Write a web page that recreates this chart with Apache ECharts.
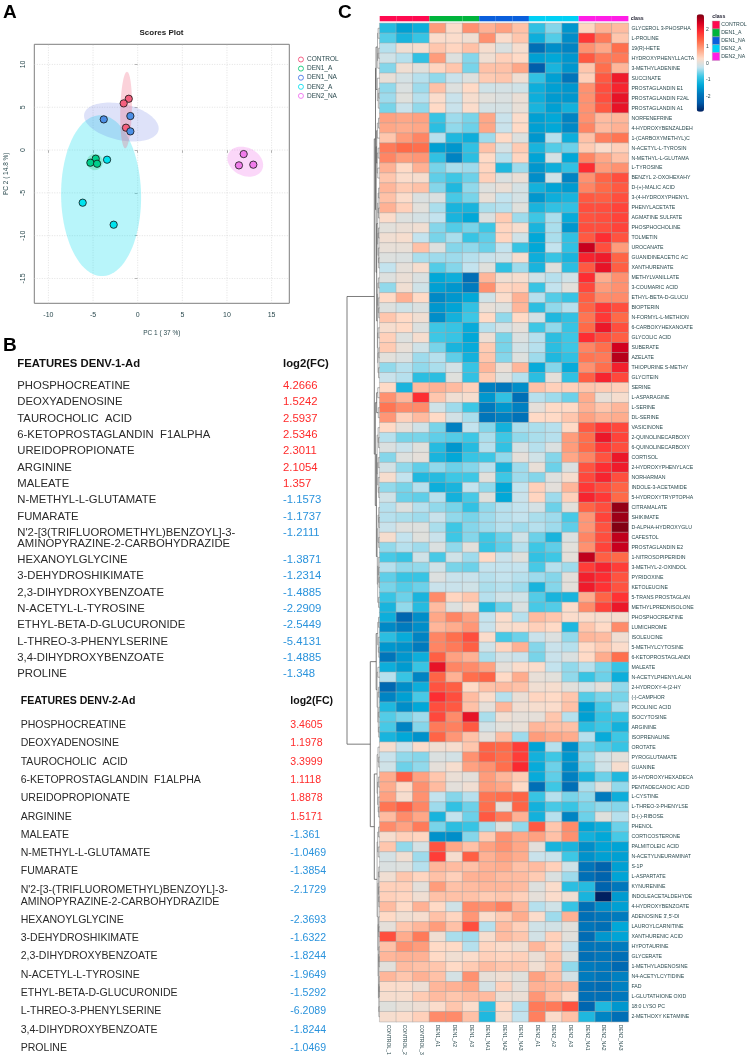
<!DOCTYPE html>
<html><head><meta charset="utf-8">
<script src="https://cdn.jsdelivr.net/npm/echarts@6/dist/echarts.min.js"></script>
<style>html,body{margin:0;padding:0;background:#fff}#c{width:750px;height:1058px}</style>
</head><body><div id="c"></div>
<script>
// ---------- Panel A data ----------
const groups = ['CONTROL','DEN1_A','DEN1_NA','DEN2_A','DEN2_NA'];
const groupPointColors = ['#f4607e','#00cf8c','#4c8fe6','#00e3ee','#f07cea'];
const legendRingColors = ['#f4507a','#10c878','#4878e8','#10e0f0','#f070f0'];
const ptControl = [[-1.0,5.99],[-1.57,5.45],[-1.31,2.61]];
const ptDen1A = [[-4.7,-1.01],[-5.3,-1.48],[-4.55,-1.6]];
const ptDen1NA = [[-3.8,3.58],[-0.82,3.97],[-0.82,2.18]];
const ptDen2A = [[-3.43,-1.13],[-6.16,-6.15],[-2.69,-8.72]];
const ptDen2NA = [[11.87,-0.47],[11.34,-1.79],[12.95,-1.71]];
// ellipse: centre x,y, conjugate semi-axis u(x,y), v(x,y)
const ellipses = [
 [-4.1,-5.33,4.48,0,-0.1,9.4],
 [-1.83,3.27,4.18,-0.74,0,2.15],
 [-1.3,4.67,0.1,4.47,0.65,0],
 [-4.8,-1.4,0.9,0,0,0.95],
 [12.05,-1.36,2.0,-0.39,0,1.71]
];
const ellipseColors = ['rgba(40,225,240,0.33)','rgba(90,110,225,0.2)','rgba(240,90,120,0.27)','rgba(40,210,130,0.3)','rgba(240,110,235,0.28)'];
const xTicks = [-10,-5,0,5,10,15];
const yTicks = [-15,-10,-5,0,5,10];

// ---------- Panel B data ----------
const featuresD1 = ['PHOSPHOCREATINE','DEOXYADENOSINE','TAUROCHOLIC  ACID','6-KETOPROSTAGLANDIN  F1ALPHA','UREIDOPROPIONATE','ARGININE','MALEATE','N-METHYL-L-GLUTAMATE','FUMARATE',"N'2-[3(TRIFLUOROMETHYL)BENZOYL]-3-\nAMINOPYRAZINE-2-CARBOHYDRAZIDE",'HEXANOYLGLYCINE','3-DEHYDROSHIKIMATE','2,3-DIHYDROXYBENZOATE','N-ACETYL-L-TYROSINE','ETHYL-BETA-D-GLUCURONIDE','L-THREO-3-PHENYLSERINE','3,4-DIHYDROXYBENZOATE','PROLINE'];
const fcD1 = ['4.2666','1.5242','2.5937','2.5346','2.3011','2.1054','1.357','-1.1573','-1.1737','-1.2111','-1.3871','-1.2314','-1.4885','-2.2909','-2.5449','-5.4131','-1.4885','-1.348'];
const featuresD2 = ['PHOSPHOCREATINE','DEOXYADENOSINE','TAUROCHOLIC  ACID','6-KETOPROSTAGLANDIN  F1ALPHA','UREIDOPROPIONATE','ARGININE','MALEATE','N-METHYL-L-GLUTAMATE','FUMARATE',"N'2-[3-(TRIFLUOROMETHYL)BENZOYL]-3-\nAMINOPYRAZINE-2-CARBOHYDRAZIDE",'HEXANOYLGLYCINE','3-DEHYDROSHIKIMATE','2,3-DIHYDROXYBENZOATE','N-ACETYL-L-TYROSINE','ETHYL-BETA-D-GLUCURONIDE','L-THREO-3-PHENYLSERINE','3,4-DIHYDROXYBENZOATE','PROLINE'];
const fcD2 = ['3.4605','1.1978','3.3999','1.1118','1.8878','1.5171','-1.361','-1.0469','-1.3854','-2.1729','-2.3693','-1.6322','-1.8244','-1.9649','-1.5292','-6.2089','-1.8244','-1.0469'];

// ---------- Panel C data ----------
const colNames = ['CONTROL_1','CONTROL_2','CONTROL_3','DEN1_A1','DEN1_A2','DEN1_A3','DEN1_NA1','DEN1_NA2','DEN1_NA3','DEN2_A1','DEN2_A2','DEN2_A3','DEN2_NA1','DEN2_NA2','DEN2_NA3'];
const classNames = ['CONTROL','DEN1_A','DEN1_NA','DEN2_A','DEN2_NA'];
const classColors = ['#ff0a50','#00b43c','#0a5fdc','#00d0f5','#ff1ee6'];
const colClass = [0,0,0,1,1,1,2,2,2,3,3,3,4,4,4];
const rowNames = ['GLYCEROL 3-PHOSPHA','L-PROLINE','19(R)-HETE','HYDROXYPHENYLLACTA','3-METHYLADENINE','SUCCINATE','PROSTAGLANDIN E1','PROSTAGLANDIN F2AL','PROSTAGLANDIN A1','NORFENEFRINE','4-HYDROXYBENZALDEH','1-(CARBOXYMETHYL)C','N-ACETYL-L-TYROSIN','N-METHYL-L-GLUTAMA','L-TYROSINE','BENZYL 2-OXOHEXAHY','D-(+)-MALIC ACID','3-(4-HYDROXYPHENYL','PHENYLACETATE','AGMATINE SULFATE','PHOSPHOCHOLINE','TOLMETIN','UROCANATE','GUANIDINEACETIC AC','XANTHURENATE','METHYLVANILLATE','3-COUMARIC ACID','ETHYL-BETA-D-GLUCU','BIOPTERIN','N-FORMYL-L-METHION','6-CARBOXYHEXANOATE','GLYCOLIC ACID','SUBERATE','AZELATE','THIOPURINE S-METHY','GLYCITEIN','SERINE','L-ASPARAGINE','L-SERINE','DL-SERINE','VASICINONE','2-QUINOLINECARBOXY','6-QUINOLINECARBOXY','CORTISOL','2-HYDROXYPHENYLACE','NORHARMAN','INDOLE-3-ACETAMIDE','5-HYDROXYTRYPTOPHA','CITRAMALATE','SHIKIMATE','D-ALPHA-HYDROXYGLU','CAFESTOL','PROSTAGLANDIN E2','1-NITROSOPIPERIDIN','3-METHYL-2-OXINDOL','PYRIDOXINE','KETOLEUCINE','5-TRANS PROSTAGLAN','METHYLPREDNISOLONE','PHOSPHOCREATINE','LUMICHROME','ISOLEUCINE','5-METHYLCYTOSINE','6-KETOPROSTAGLANDI','MALEATE','N-ACETYLPHENYLALAN','2-HYDROXY-4-(2-HY','(-)-CAMPHOR','PICOLINIC ACID','ISOCYTOSINE','ARGININE','ISOPRENALINE','OROTATE','PYROGLUTAMATE','GUANINE','16-HYDROXYHEXADECA','PENTADECANOIC ACID','L-CYSTINE','L-THREO-3-PHENYLSE','D-(-)-RIBOSE','PHENOL','CORTICOSTERONE','PALMITOLEIC ACID','N-ACETYLNEURAMINAT','S-1P','L-ASPARTATE','KYNURENINE','INDOLEACETALDEHYDE','4-HYDROXYBENZOATE',"ADENOSINE 3',5'-DI",'LAUROYLCARNITINE','XANTHURENIC ACID','HYPOTAURINE','GLYCERATE','1-METHYLADENOSINE','N4-ACETYLCYTIDINE','FAD','L-GLUTATHIONE OXID','18:0 LYSO PC','2-METHOXY KETAMINE'];
const heatValues = [
[-1.0,-1.4,-1.2,0.9,0.25,1.0,0.7,0.85,0.55,-0.9,-0.5,-1.5,0.35,0.7,0.6],
[-0.7,-1.1,-0.85,0.25,0.25,0.15,1.0,0.25,0.5,-1.2,-0.7,-1.6,1.8,1.2,0.5],
[-0.3,0.15,0.2,0.5,0.35,0.55,0.2,-0.05,0.2,-2.0,-1.6,-1.7,1.0,0.8,1.3],
[-0.15,-0.3,-0.9,0.9,-0.02,-0.5,0.15,0.4,0.3,-1.4,-1.3,-1.5,1.5,1.2,1.2],
[-0.5,0.15,0,0.35,0.5,-0.55,0.55,0.55,0.8,-2.3,-1.1,-1.5,0.5,1.3,0.65],
[0.08,-0.1,-0.3,-0.45,-0.2,-0.02,0.45,0.5,0.15,-0.9,-1.4,-1.9,0.4,1.5,2.1],
[-0.45,-0.05,-0.4,0.55,-0.02,0.3,-0.15,-0.1,-0.15,-1.2,-1.4,-1.5,1.0,1.6,2.0],
[-0.4,0.0,-0.3,0.25,-0.2,0.2,0.02,-0.05,0.1,-1.2,-1.45,-1.5,1.0,1.6,2.2],
[-0.55,-0.2,-0.45,0.3,-0.2,0.25,-0.1,-0.1,0.08,-1.1,-1.4,-1.15,1.0,1.5,2.2],
[0.85,0.8,0.85,-0.85,-0.4,-0.55,0.8,-0.2,0.25,-1.4,-1.3,-1.7,1.0,0.6,0.65],
[0.8,0.75,0.8,-0.95,-0.45,-0.6,0.8,-0.2,0.3,-1.4,-1.3,-1.65,1.1,0.6,0.7],
[0.5,0.9,1.1,-0.3,-1.05,-1.2,-0.4,0.3,-0.02,-1.5,-0.3,-1.2,0.55,1.15,1.25],
[1.2,1.35,1.3,-1.4,-1.5,-0.9,0.55,-0.1,0.45,-1.1,-0.7,-0.6,0.45,0.25,0.4],
[1.1,0.9,0.95,-0.9,-1.7,-0.95,0.3,-0.3,0.35,-1.35,-0.1,-1.3,1.1,0.8,0.55],
[0.7,0.3,0.7,-0.55,-0.35,-0.4,0.35,-1.05,-0.4,-1.5,-1.2,-0.9,1.9,0.9,1.0],
[0.5,0.25,0.2,-0.65,-0.8,-0.6,0.4,-0.05,0.1,-1.6,-0.15,-1.7,1.0,1.4,1.6],
[0.65,0.45,0.55,-0.5,-1.05,-0.45,-0.02,0.1,-0.1,-1.15,-1.35,-1.45,1.1,1.35,1.5],
[0.55,0.25,-0.05,-0.05,-0.75,-0.55,0.08,-0.25,-0.1,-1.5,-1.2,-1.1,1.5,1.45,1.6],
[0.7,0.4,0.02,-0.35,-1.1,-1.1,-0.35,-0.3,0,-1.1,-0.9,-0.9,1.6,1.6,1.7],
[0.25,-0.02,-0.1,-0.25,-1.1,-1.3,-0.05,0.45,-0.4,-0.8,-0.35,-1.25,1.55,1.6,1.7],
[0.02,0.1,0.15,-0.5,-0.7,-0.55,-0.8,0.35,0.2,-1.1,-0.35,-1.5,1.6,1.6,1.7],
[0.15,0.2,-0.25,-0.55,-0.35,-0.85,-0.65,0.35,-0.15,-1.3,-0.35,-0.9,1.5,1.9,1.55],
[0.08,0.08,0.55,-0.02,-0.5,-0.45,-0.6,-0.25,-0.85,-1.3,-0.25,-0.9,2.5,1.6,0.9],
[-0.02,-0.05,-0.35,-0.4,-0.4,-0.3,-0.2,-0.15,0.2,-1.2,-0.85,-1.1,2.0,2.1,1.4],
[-0.25,0.05,0.2,-0.7,-0.5,-0.25,0.0,-0.9,-0.4,-1.1,0.0,-0.95,1.5,2.2,1.45],
[-0.02,0.1,-0.05,-1.3,-1.2,-2.0,0.65,0.15,0.2,-0.15,-0.3,-0.15,1.9,0.75,1.0],
[-0.45,0.15,-0.15,-1.4,-1.5,-1.8,1.0,0.35,0.4,-0.85,-0.25,0.02,1.65,0.9,1.0],
[0.3,0.7,0.3,-1.65,-1.5,-1.3,-0.15,0.25,0.7,-0.3,-0.7,-0.85,1.45,1.05,1.05],
[-0.02,-0.15,-0.05,-1.5,-1.35,-0.9,0.08,-0.02,0.65,-0.95,-0.45,-0.3,1.4,1.8,1.6],
[0.5,0.3,0.15,-1.6,-1.15,-0.8,0.3,-0.45,0.3,-0.12,-1.05,-0.9,1.25,1.8,1.35],
[0.2,0.3,-0.03,-0.8,-0.85,-1.25,-0.3,-0.1,0.05,-0.8,-0.45,-0.85,1.35,2.15,1.6],
[0.4,-0.02,0.2,-0.8,-0.85,-1.3,0.12,-0.55,-0.05,-0.3,-0.95,-0.8,1.9,1.6,1.45],
[0.45,0.08,-0.15,-0.55,-1.1,-1.25,0.45,-0.55,-0.12,-0.3,-0.95,-0.8,1.1,1.3,2.45],
[0.02,-0.05,-0.4,-0.3,-0.65,-1.15,0.5,-0.5,-0.02,-0.4,-1.05,-0.9,1.25,1.2,2.6],
[-0.45,-0.3,-0.45,-0.35,-0.12,-0.85,0.65,0.1,0.65,-1.25,-0.5,-1.25,1.0,1.3,2.05],
[-0.2,-0.3,-0.95,-0.95,0.0,-0.9,0.45,-0.02,-0.3,-0.95,0.05,-0.9,1.45,2.0,1.65],
[0.3,-1.1,0.6,0.7,0.6,0.4,-1.75,-1.85,-1.6,0.55,0.4,0.4,0.5,0.45,0.4],
[1.0,0.65,1.9,0.5,0.15,0.2,-1.5,-0.9,-2.0,-0.3,-0.4,-0.6,0.75,0.08,0.2],
[1.25,1.05,1.05,-0.15,-0.4,-0.8,-1.8,-1.5,-1.75,0.05,0.3,0.3,0.7,0.5,0.65],
[0.95,0.4,0.6,0.3,-0.12,-0.35,-1.9,-1.75,-1.95,0.3,0.3,0.5,0.85,0.7,0.75],
[0.3,0.05,-0.15,-0.55,-1.75,-0.25,-0.5,-1.15,-0.35,-0.35,-0.3,0.3,1.5,1.8,1.65],
[-0.3,-0.55,-0.55,-0.65,-0.7,-0.8,-0.35,-0.8,-0.45,-0.35,-0.3,0.9,1.3,2.15,1.7],
[-0.05,-0.2,0.0,-1.0,-1.5,-1.0,-0.3,-0.9,-0.1,-0.3,-0.05,0.9,1.35,1.8,1.6],
[-0.5,-0.02,0.05,-1.1,-1.3,-0.85,-0.8,-0.45,0.05,-0.15,-0.5,0.8,1.1,1.55,2.15],
[-0.12,-0.45,-0.65,-0.45,-0.6,-0.5,-0.3,-1.1,-0.4,0.08,-0.6,-0.05,1.55,1.9,2.1],
[0.2,-0.25,-1.05,-1.0,-0.8,-0.8,0.02,-0.8,-0.4,-0.5,-0.02,0.2,1.65,2.0,1.6],
[-0.45,-0.55,-0.3,-1.2,-1.1,-0.25,-0.45,-1.3,-0.25,0.4,0.03,0.65,1.8,1.6,1.4],
[-0.15,-0.6,-0.65,-0.3,-1.15,-0.75,0.0,-1.3,-0.2,0.35,-0.4,0.4,2.0,1.8,1.35],
[-0.3,-0.03,-0.3,-0.45,-0.55,-0.9,-0.45,-0.3,-0.25,-0.1,-0.6,0.02,1.4,1.6,2.8],
[-0.3,-0.35,-0.4,-0.2,-0.45,-0.55,-0.4,-0.3,-0.25,-0.35,-0.4,-0.75,0.95,1.7,2.75],
[-0.2,-0.02,-0.02,-0.35,-0.8,-0.5,-0.4,-0.3,-0.4,-0.3,-0.4,-0.65,0.95,1.55,2.9],
[0.2,-0.25,0.0,-0.2,-0.8,-0.5,-0.8,-0.6,-0.15,-0.6,-1.1,-0.05,1.1,1.6,2.55],
[-0.45,-0.3,-0.4,-0.05,-0.45,0.02,-0.85,-0.65,-0.3,-0.8,-0.65,0.02,1.0,1.7,2.5],
[-0.75,-0.85,-0.15,-0.75,-0.15,-0.4,0.3,-0.2,0.0,-0.9,-0.8,0.05,2.55,1.45,1.35],
[-0.3,-0.45,-0.45,-0.15,-0.55,-0.6,-0.25,-0.25,-0.25,-0.75,-0.3,-0.4,1.75,2.0,1.75],
[-0.65,-0.85,-0.85,-0.03,-0.2,-0.2,-0.3,-0.25,-0.3,-0.4,-0.5,0.03,2.05,1.9,1.55],
[-0.55,-0.7,-0.6,-0.2,-0.2,-0.15,-0.35,-0.3,-0.4,-1.1,-0.5,0.03,2.1,1.85,1.55],
[-0.85,-0.6,-1.1,1.05,0.35,0.5,-0.3,-0.15,-0.15,-0.7,-1.1,-1.1,0.75,1.4,1.85],
[-1.1,-0.45,-1.0,0.6,-0.03,0.2,-1.0,-0.6,-0.05,-0.75,-0.7,0.25,1.05,1.7,2.15],
[-1.2,-2.15,-1.6,0.8,1.1,0.85,-0.25,0.25,-0.3,0.6,0.5,0.25,0.25,0.2,0.2],
[-1.65,-1.8,-1.6,0.65,0.75,0.95,-0.2,0.2,0.25,0.4,0.3,-1.05,0.5,0.3,1.05],
[-0.95,-1.25,-1.7,1.1,1.3,1.6,0.25,-0.75,-0.6,-0.2,-0.03,-0.45,0.65,0.6,0.15],
[-1.5,-1.55,-1.8,1.1,1.2,1.45,-0.15,0.35,0.7,-0.5,-0.2,-0.3,0.3,0.45,0.25],
[-1.9,-1.5,-1.2,1.45,0.85,0.7,-0.35,-0.12,-0.2,-0.55,-0.2,-0.05,0.3,0.75,1.3],
[-1.2,-1.45,-0.85,2.2,1.1,1.05,0.85,0.05,0.25,0.25,-0.25,-0.45,-0.3,-0.55,-0.85],
[-0.3,-0.85,-1.7,1.4,0.7,1.3,1.4,0.3,0.75,0.08,0.02,-0.45,-0.85,-0.6,-1.2],
[-2.1,-1.6,-1.2,1.55,1.45,0.3,0.55,0.6,0.55,0.15,0.2,0.02,-0.15,0.05,-0.45],
[-1.7,-1.4,-0.75,1.9,1.6,0.6,0.25,-0.3,0.1,0.35,0.3,0.5,-0.7,-0.55,-0.55],
[-1.05,-1.6,-1.3,1.6,1.5,0.55,0.05,0.65,0.15,0.2,0.25,0.55,-1.4,-0.75,-0.35],
[-0.7,-0.55,-0.4,1.65,1.05,2.2,-0.35,0.15,0.05,0.05,0.5,-0.3,-1.4,-0.85,-0.85],
[-0.75,-1.7,-0.5,1.2,1.15,1.5,-0.12,0.02,0.08,0.65,0.55,0.55,-0.95,-0.8,-1.15],
[-1.1,-1.3,-1.55,1.4,0.95,0.55,0.05,0.6,-0.4,0.9,0.8,0.75,-0.3,-1.25,-0.8],
[0.2,-0.2,0.25,0.15,0.2,0.5,1.4,1.35,1.75,-1.35,-0.3,-1.6,-0.6,-0.7,-0.85],
[-0.2,-0.45,-0.5,-0.05,-0.12,1.0,1.45,1.3,1.75,-1.15,-0.8,-1.5,-0.45,-0.15,0.02],
[-0.15,-0.6,-0.45,0.05,0.2,0.85,1.0,1.3,1.95,-1.25,-0.6,-1.6,-0.55,-0.15,0.2],
[0.75,1.45,0.85,0.5,0.1,0.03,0.9,0.65,0.45,-1.25,-0.65,-1.75,-1.1,-0.6,-1.05],
[0.75,0.3,1.0,0.6,0.03,0.15,0.9,0.8,0.3,-2.0,-0.8,-2.0,-0.35,0.0,-0.45],
[0.85,0.2,1.0,-0.25,-0.5,-0.3,1.25,1.3,1.4,-0.85,-0.3,-0.55,-0.45,-1.8,-1.2],
[1.25,1.45,1.1,-0.4,-0.9,-0.6,1.3,0.05,1.4,-1.15,-0.75,-0.85,-0.55,-0.45,-0.5],
[0.6,1.05,0.8,-1.1,-0.25,-0.6,1.5,1.2,0.7,-1.15,-0.3,-1.7,-0.6,0.0,-0.3],
[1.05,0.85,1.2,-0.55,-0.95,-0.85,-0.4,0.0,-0.45,1.5,0.5,1.05,-1.35,-1.2,-0.6],
[0.2,0.4,0.35,-1.55,-1.6,-0.5,0.45,1.0,0.8,0.85,0.55,1.0,-1.15,-1.3,-0.75],
[0.5,-0.45,-0.1,1.55,0.8,0.55,0.85,1.0,0.8,0.03,-1.1,-1.1,-1.6,-1.35,-1.35],
[-0.1,0.15,-0.4,1.75,0.2,1.45,0.7,0.85,0.75,-0.2,-0.2,-0.8,-1.55,-1.4,-1.4],
[-0.05,-0.02,-0.3,0.65,0.6,0.55,0.7,0.75,0.55,0.6,0.4,-0.15,-1.9,-2.2,-1.4],
[0.15,0.5,0.35,0.55,0.4,0.7,0.7,0.6,0.6,0.45,-0.05,-0.4,-2.0,-2.2,-1.35],
[0.4,0.4,0.03,0.9,0.55,0.6,0.65,0.65,0.6,-0.02,0.25,-0.95,-1.0,-2.2,-1.85],
[0.4,0.35,0.15,0.55,0.55,0.55,0.45,0.5,0.4,0.05,0.25,0.15,-1.1,-2.9,-1.45],
[0.6,0.3,0.7,0.3,-0.15,1.05,1.0,1.15,0.65,-0.3,-0.15,-0.85,-2.0,-1.6,-1.4],
[0.3,0.15,0.2,0.55,0.35,0.95,0.25,0.45,0.75,0.25,-0.4,0.7,-2.0,-1.9,-1.8],
[0.05,0.5,0.65,0.9,0.55,1.6,-0.3,0.6,0.4,-0.15,-0.12,0.02,-1.9,-2.0,-1.3],
[1.6,0.75,1.2,0.15,-0.35,-0.4,0.2,0.6,0.5,-0.12,0.4,0.02,-2.05,-1.5,-1.35],
[0.55,1.0,0.9,0.3,0.3,-0.3,0.35,0.25,0.15,0.65,0.35,-0.2,-1.9,-1.9,-1.8],
[0.65,0.7,0.7,0.3,0.15,0.25,0.4,0.35,0.4,0.1,0.5,0.0,-2.0,-1.9,-2.0],
[0.02,0.6,0.55,0.5,0.3,0.45,0.6,0.5,0.5,0.15,0.5,-0.45,-1.8,-1.85,-2.1],
[0.65,0.5,0.7,0.55,-0.1,1.0,0.07,0.15,0.0,0.85,0.55,-0.12,-1.8,-1.9,-1.75],
[0.25,0.25,0.12,0.65,0.7,0.8,-0.1,0.4,0.03,0.7,0.65,0.65,-2.0,-2.05,-1.75],
[0.2,0.2,0.45,0.6,0.5,0.6,0.6,0.1,0.1,0.95,0.55,0.25,-2.0,-2.0,-1.85],
[0.0,0.07,0.12,0.25,0.5,0.25,-0.9,0.3,-0.3,1.2,1.2,1.55,-2.15,-1.05,-1.5],
[0.2,0.25,0.4,1.05,1.05,0.55,-1.05,0.2,-0.25,1.15,0.25,0.55,-1.05,-1.7,-2.0]
];
const scaleMin = -2.9, scaleMax = 2.94;
const scaleStops = ['#002060','#005aa8','#0078bc','#00a8d8','#40c8e6','#c4e3ee','#ffdcc8','#ffa585','#ff6a48','#ff2f33','#d80020','#7c0012'];
const scaleTicks = [-2,-1,0,1,2];
// row dendrogram: [height, leftChild, rightChild]; a number is a row (1-based)
const dTop1 = [3.6,[2.2,[1.6,1,2],[1.9,[1.3,3,4],5]],[2.4,6,[1.4,[0.9,7,8],9]]];
const dTop2 = [3.6,[3.0,[2.4,[1.2,10,11],12],[2.5,[1.5,13,14],[1.9,15,16]]],[3.0,[2.0,[1.6,[1.1,17,18],[1.2,19,20]],[1.7,[1.2,21,22],[1.3,23,[1.0,24,25]]]],[2.3,[1.9,[1.3,26,27],[1.4,28,[1.0,29,30]]],[2.0,[1.5,31,32],[1.7,[0.9,33,34],[1.2,35,36]]]]]];
const dMid = [4.4,[3.0,[1.9,37,38],[1.4,39,40]],[3.3,[2.6,[1.6,41,[1.2,42,43]],[2.0,[1.4,44,45],[1.5,46,[1.0,47,48]]]],[2.4,[1.7,[1.0,49,[0.8,50,51]],[1.0,52,53]],[2.0,[1.4,54,[1.0,55,[0.7,56,57]]],[1.2,58,59]]]]];
const dLow1 = [3.5,[2.0,[1.2,60,61],[1.4,62,[0.9,63,64]]],[2.6,[1.8,65,66],[1.9,[1.1,67,68],[1.4,[0.9,69,70],[1.0,71,72]]]]];
const dLow2 = [2.6,[1.7,73,[1.0,74,75]],[2.1,[1.3,76,77],[1.5,78,[1.1,79,80]]]];
const dLow3 = [2.6,[2.0,[1.2,81,82],[1.4,83,84]],[1.8,[1.3,[0.9,85,86],[1.0,87,[0.8,88,89]]],[1.6,[1.2,90,[0.9,91,92]],[1.3,[0.8,93,[0.6,94,95]],[0.9,[0.7,96,[0.5,97,98]],[0.8,99,100]]]]]];
const dendroRoot = [32.7,[5.4,[4.2,dTop1,dTop2],dMid],[9.4,dLow1,[5.4,dLow2,dLow3]]];
const dendroMaxH = 32.7;

// ---------- builders ----------
const dendroLinks = [];
function walk(n){
  if (typeof n === 'number') return {y:n, h:0};
  const a = walk(n[1]), b = walk(n[2]);
  dendroLinks.push([n[0], a.y, b.y, a.h, b.h]);
  return {y:(a.y+b.y)/2, h:n[0]};
}
walk(dendroRoot);
const heatData = [];
heatValues.forEach((r,i)=>r.forEach((v,j)=>heatData.push([j,i,v])));

const SANS = '"Liberation Sans", Arial, sans-serif';
const graphics = [];
function txt(t,x,y,font,fill,extra){
  graphics.push(Object.assign({type:'text',x,y,silent:true,style:{text:t,font,fill,textAlign:'left',textVerticalAlign:'middle'}},extra||{}));
}
txt('A',3,13,'bold 19px '+SANS,'#000');
txt('B',3,346,'bold 19px '+SANS,'#000');
txt('C',338,13,'bold 19px '+SANS,'#000');
txt('Scores Plot',139.5,33,'bold 8px '+SANS,'#222');

function table(names,vals,x,vx,y0,step,wrap,after,font,title,hy){
  txt(title,x,hy,'bold '+font+'px '+SANS,'#111');
  txt('log2(FC)',vx,hy,'bold '+font+'px '+SANS,'#111');
  let y=y0;
  names.forEach((n,i)=>{
    const parts=n.split('\n');
    txt(parts[0],x,y,font+'px '+SANS,'#2a2a2a');
    txt(vals[i],vx,y,font+'px '+SANS,vals[i][0]==='-'?'#2a93dc':'#ff2a2a');
    if(parts[1]){ y+=wrap; txt(parts[1],x,y,font+'px '+SANS,'#2a2a2a'); y+=after; }
    else y+=step;
  });
}
table(featuresD1,fcD1,17.3,283,386,16.3,11.3,16,11.3,'FEATURES DENV-1-Ad',364);
table(featuresD2,fcD2,20.7,290.3,725.3,18.27,12.3,18,10.55,'FEATURES DENV-2-Ad',700.7);

txt('class',630.7,18.5,'bold 5.2px '+SANS,'#223');
txt('class',712.3,17,'bold 5.2px '+SANS,'#223');
classNames.forEach((c,i)=>{
  graphics.push({type:'rect',silent:true,shape:{x:712.3,y:21+i*7.9,width:7.4,height:7.9},style:{fill:classColors[i],stroke:'#aaa',lineWidth:0.4}});
  txt(c,721.3,25+i*7.9,'5.2px '+SANS,'#2b4a4f');
});

const customLineItem = (p,api,pts,stroke,w,dash)=>({type:'polyline',shape:{points:pts.map(q=>api.coord(q))},style:{stroke,fill:null,lineWidth:w,lineDash:dash}});

const series = [];
// dotted gridlines in panel A
const gridLineData = xTicks.map(v=>[v,0]).concat(yTicks.map(v=>[v,1]));
series.push({type:'custom',name:'grid',xAxisIndex:0,yAxisIndex:0,silent:true,z:1,data:gridLineData,
  renderItem(p,api){
    const v=api.value(0), vertical=api.value(1)===0;
    const pts= vertical? [[v,-17.9],[v,12.35]] : [[-11.58,v],[16.98,v]];
    return customLineItem(p,api,pts,'#cfcfcf',0.6,[1,1.5]);
  }});
series.push({type:'custom',name:'ellipses',xAxisIndex:0,yAxisIndex:0,silent:true,z:2,data:ellipses,
  renderItem(p,api){
    const [cx,cy,ux,uy,vx,vy]=ellipses[p.dataIndex];
    const pts=[];
    for(let k=0;k<90;k++){const t=k/90*2*Math.PI;
      pts.push(api.coord([cx+ux*Math.cos(t)+vx*Math.sin(t),cy+uy*Math.cos(t)+vy*Math.sin(t)]));}
    return {type:'polygon',shape:{points:pts},style:{fill:ellipseColors[p.dataIndex],stroke:null}};
  }});
[ptControl,ptDen1A,ptDen1NA,ptDen2A,ptDen2NA].forEach((d,i)=>{
  series.push({type:'scatter',name:groups[i],xAxisIndex:0,yAxisIndex:0,z:3,data:d,symbolSize:7.3,
    itemStyle:{color:groupPointColors[i],borderColor:'#111',borderWidth:0.8,opacity:1}});
});
const heatIdx = series.length;
series.push({type:'heatmap',name:'heat',xAxisIndex:1,yAxisIndex:1,data:heatData,progressive:0,
  itemStyle:{borderColor:'#a6a6a6',borderWidth:0.5},emphasis:{disabled:true}});
series.push({type:'bar',name:'classbar',xAxisIndex:2,yAxisIndex:2,barWidth:'100%',silent:true,
  data:colClass.map(c=>({value:1,itemStyle:{color:classColors[c]}}))});
series.push({type:'custom',name:'dendro',xAxisIndex:3,yAxisIndex:3,silent:true,data:dendroLinks,
  renderItem(p,api){
    const [h,ya,yb,ha,hb]=dendroLinks[p.dataIndex];
    const major=h>=3;
    return customLineItem(p,api,[[ha,ya],[h,ya],[h,yb],[hb,yb]],major?'#5a5a5a':'#6e6e6e',major?0.8:0.55);
  }});

const chart = echarts.init(document.getElementById('c'));
chart.setOption({
  animation:false,
  backgroundColor:'#fff',
  textStyle:{fontFamily:SANS},
  grid:[
    {left:34.3,top:44.3,width:255,height:259,show:true,borderColor:'#7d7d7d',borderWidth:1,backgroundColor:'transparent'},
    {left:379.7,top:23.3,width:248.7,height:998.4},
    {left:379.7,top:16,width:248.7,height:5.3},
    {left:347,top:23.3,width:32.7,height:998.4},
    {left:696.7,top:14.3,width:7.3,height:97.4}
  ],
  xAxis:[
    {type:'value',gridIndex:0,min:-11.58,max:16.98,name:'PC 1 ( 37 %)',nameLocation:'middle',nameGap:26,nameTextStyle:{fontSize:6.5,color:'#2b4a4f'},
     axisLine:{show:false},splitLine:{show:false},
     axisTick:{show:true,length:3,inside:false,customValues:xTicks,lineStyle:{color:'#7d7d7d',width:0.6}},
     axisLabel:{show:true,customValues:xTicks,fontSize:7,color:'#2b4a4f',margin:8,hideOverlap:false}},
    {type:'category',gridIndex:1,data:colNames,position:'bottom',axisLine:{show:false},axisTick:{show:false},splitLine:{show:false},splitArea:{show:false},
     axisLabel:{interval:0,rotate:-90,fontSize:5,color:'#2b4a4f',margin:3}},
    {type:'category',gridIndex:2,data:colNames,show:false},
    {type:'value',gridIndex:3,min:0,max:dendroMaxH,inverse:true,show:false,splitLine:{show:false}},
    {type:'value',gridIndex:4,min:0,max:1,show:false,splitLine:{show:false}}
  ],
  yAxis:[
    {type:'value',gridIndex:0,min:-17.9,max:12.35,name:'PC 2 ( 14.8 %)',nameLocation:'middle',nameGap:25,nameTextStyle:{fontSize:6.5,color:'#2b4a4f'},
     axisLine:{show:false},splitLine:{show:false},
     axisTick:{show:true,length:3,customValues:yTicks,lineStyle:{color:'#7d7d7d',width:0.6}},
     axisLabel:{show:true,customValues:yTicks,rotate:90,fontSize:7,color:'#2b4a4f',margin:8,hideOverlap:false}},
    {type:'category',gridIndex:1,data:rowNames,inverse:true,position:'right',axisLine:{show:false},axisTick:{show:false},splitLine:{show:false},splitArea:{show:false},
     axisLabel:{interval:0,fontSize:5.2,color:'#2b4a4f',margin:3}},
    {type:'value',gridIndex:2,min:0,max:1,show:false,splitLine:{show:false}},
    {type:'value',gridIndex:3,min:0.5,max:100.5,inverse:true,show:false,splitLine:{show:false}},
    {type:'value',gridIndex:4,min:scaleMin,max:scaleMax,position:'right',axisLine:{show:false},splitLine:{show:false},
     axisTick:{show:false,customValues:scaleTicks},
     axisLabel:{show:true,customValues:scaleTicks,fontSize:5,color:'#2b4a4f',margin:2,hideOverlap:false}}
  ],
  legend:{show:true,orient:'vertical',left:298,top:56,padding:0,itemGap:2.1,itemWidth:6,itemHeight:5,selectedMode:false,
    textStyle:{fontSize:6.5,color:'#2b4a4f',padding:[0,0,0,-2]},icon:'circle',
    data:groups.map((g,i)=>({name:g,icon:'circle',itemStyle:{color:'#fff',borderColor:legendRingColors[i],borderWidth:0.9}}))},
  visualMap:{type:'continuous',show:true,seriesIndex:heatIdx,dimension:2,min:scaleMin,max:scaleMax,calculable:false,hoverLink:false,
    left:696.7,top:14.3,itemWidth:7.3,itemHeight:97.4,padding:0,realtime:false,
    inRange:{color:scaleStops},textStyle:{fontSize:5}},
  series,
  graphic:{elements:graphics}
});
</script></body></html>
